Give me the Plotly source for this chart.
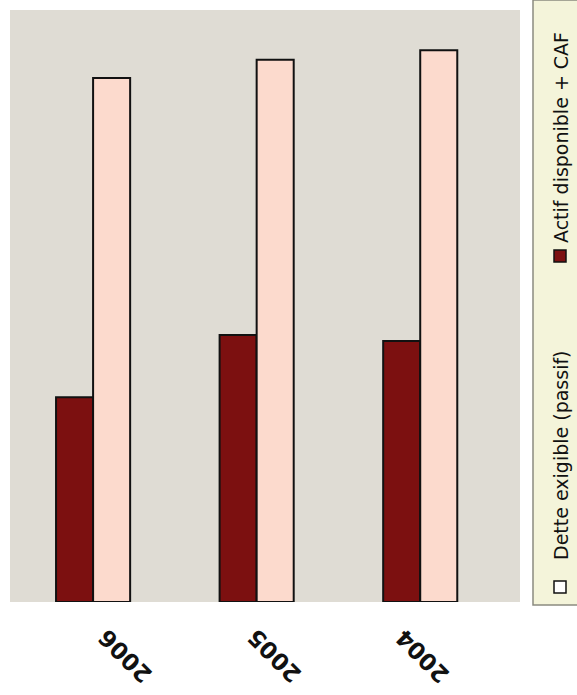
import plotly.graph_objects as go

# Data
years = ["2006", "2005", "2004"]
actif_caf = [34.6, 45.1, 44.1]        # Actif disponible + CAF
dette_exigible = [88.5, 91.6, 93.2]   # Dette exigible (passif)
series_names = ["Actif disponible + CAF", "Dette exigible (passif)"]

DARK = "#7c1010"
LIGHT = "#fcdacd"

fig = go.Figure()
fig.add_trace(go.Bar(x=years, y=actif_caf, name=series_names[0],
                     marker=dict(color=DARK, line=dict(color="#111", width=2))))
fig.add_trace(go.Bar(x=years, y=dette_exigible, name=series_names[1],
                     marker=dict(color=LIGHT, line=dict(color="#111", width=2))))

W, H = 577, 695
ml, mr, mt, mb = 10, 57, 10, 93
pw, ph = W - ml - mr, H - mt - mb


def px_to_paper(x, y):
    return (x - ml) / pw, (H - mb - y) / ph


fig.update_layout(
    width=W, height=H,
    margin=dict(l=ml, r=mr, t=mt, b=mb),
    barmode="group", bargap=0.547, bargroupgap=0,
    paper_bgcolor="white", plot_bgcolor="#dfdcd4",
    showlegend=False,
    xaxis=dict(type="category", range=[-0.508, 2.61], showticklabels=False,
               showgrid=False, zeroline=False, showline=False, ticks=""),
    yaxis=dict(range=[0, 100], showticklabels=False, showgrid=False,
               zeroline=False, showline=False, ticks=""),
)

# Rotated, upside-down year labels
shifts = [32, 18, 2]
for i, (yr, s) in enumerate(zip(years, shifts)):
    fig.add_annotation(x=i, xref="x", y=px_to_paper(0, 656)[1], yref="paper",
                       xshift=s, text=f"<b>{yr}</b>", textangle=-135, showarrow=False,
                       font=dict(family="DejaVu Sans", size=23, color="#111"),
                       xanchor="center", yanchor="middle")

# Vertical legend panel on the right
x0, y0 = px_to_paper(533, 0)
x1, y1 = px_to_paper(580, 605)
fig.add_shape(type="rect", xref="paper", yref="paper", x0=x0, x1=x1, y0=y1, y1=y0,
              line=dict(color="#8a8a80", width=1.5), fillcolor="#f4f4da", layer="below")

legend_items = [(series_names[0], DARK, 138, 256), (series_names[1], "white", 455, 587)]
for name, col, ty, sy in legend_items:
    tx, typ = px_to_paper(561, ty)
    fig.add_annotation(x=tx, y=typ, xref="paper", yref="paper", text=name,
                       textangle=-90, showarrow=False,
                       font=dict(family="DejaVu Sans", size=19, color="#111"),
                       xanchor="center", yanchor="middle")
    sx0, sy0 = px_to_paper(554, sy - 6)
    sx1, sy1 = px_to_paper(566, sy + 6)
    fig.add_shape(type="rect", xref="paper", yref="paper", x0=sx0, x1=sx1, y0=sy1, y1=sy0,
                  line=dict(color="#111", width=1.5), fillcolor=col)

fig.write_html("out.html")
